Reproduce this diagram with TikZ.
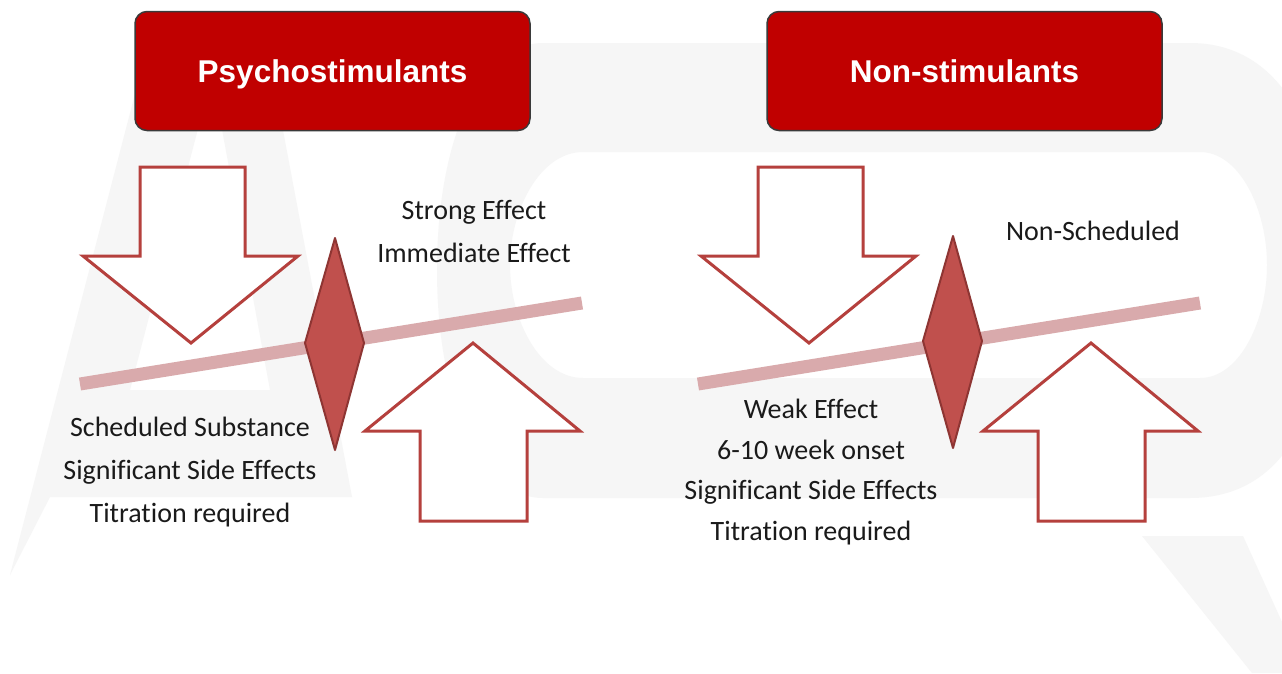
\documentclass[tikz,border=0pt]{standalone}
\usepackage{fontspec}
\setmainfont{Carlito}[Ligatures=NoCommon]
\newfontfamily\titlefont{Liberation Sans}
\definecolor{boxred}{HTML}{C00000}
\definecolor{boxedge}{HTML}{3A3A3A}
\definecolor{arrowred}{HTML}{B5403D}
\definecolor{diafill}{HTML}{C0504D}
\definecolor{diaedge}{HTML}{8E3533}
\definecolor{beamcol}{HTML}{D9AAAC}
\definecolor{wmark}{HTML}{F6F6F6}
\definecolor{txt}{HTML}{1A1A1A}
\begin{document}
\begin{tikzpicture}[x=1pt,y=-1pt,
  titlebox/.style={draw=boxedge, line width=1.5pt, fill=boxred, rounded corners=12pt,
    text=white, font=\titlefont\bfseries\fontsize{31.5}{36}\selectfont,
    minimum width=395pt, minimum height=119pt, inner sep=0pt,
    text height=22.6pt, text depth=0pt},
  bigarrow/.style={draw=arrowred, line width=3pt, fill=white, line join=miter},
  pivot/.style={draw=diaedge, line width=2pt, fill=diafill, line join=round},
  beamline/.style={draw=beamcol, line width=13pt},
  lbl/.style={font=\fontsize{28}{43}\selectfont, align=center, text=txt, inner sep=0pt},
  lbltight/.style={font=\fontsize{28}{40.5}\selectfont, align=center, text=txt, inner sep=0pt}]

\useasboundingbox (0,0) rectangle (1282,673);
\fill[white] (0,0) rectangle (1282,673);

% faint watermark letters
\fill[wmark, even odd rule]
  (10,575) -- (149,40) -- (266,40) -- (352,497) -- (50,497) -- cycle
  (212,75) -- (270,390) -- (130,390) -- cycle;
\fill[wmark, even odd rule]
  (543,43) -- (1190,43) .. controls (1290,43) and (1330,150) .. (1330,270)
  .. controls (1330,400) and (1290,498) .. (1190,498) -- (543,498)
  .. controls (480,498) and (437,400) .. (437,270)
  .. controls (437,140) and (480,43) .. (543,43) -- cycle
  (583,152) -- (1200,152) .. controls (1240,152) and (1267,210) .. (1267,265)
  .. controls (1267,320) and (1240,378) .. (1200,378) -- (583,378)
  .. controls (540,378) and (510,320) .. (510,265)
  .. controls (510,210) and (540,152) .. (583,152) -- cycle;
\fill[wmark] (1142,536) -- (1243,536) -- (1282,622) -- (1282,673) -- (1252,673) -- cycle;

% title boxes
\node[titlebox] (psy) at (332.5,71) {Psychostimulants};
\node[titlebox] (non) at (964.5,71) {Non-stimulants};

% two balance panels
\foreach \dx/\dy in {0/0, 618/-2} {
  \begin{scope}[xshift=\dx pt]
    \draw[beamline] (80,384) -- (582,303);
    \draw[bigarrow] (140,167) -- (245,167) -- (245,256) -- (298,256) -- (191,343)
      -- (83,256) -- (140,256) -- cycle;
    \draw[bigarrow] (473,343) -- (580,431) -- (527,431) -- (527,521) -- (420,521)
      -- (420,431) -- (365,431) -- cycle;
    \draw[pivot] (335,238+\dy) -- (364,343+\dy) -- (335,450+\dy) -- (305,343+\dy) -- cycle;
  \end{scope}
}

% labels
\node[lbl] (strong) at (474,231) {Strong Effect\\Immediate Effect};
\node[lbl] (sched) at (190,472) {Scheduled Substance\\Significant Side Effects\\Titration required};
\node[lbl] (nonsch) at (1093,231) {Non-Scheduled};
\node[lbltight] (weak) at (811,472) {Weak Effect\\6-10 week onset\\Significant Side Effects\\Titration required};
\end{tikzpicture}
\end{document}
